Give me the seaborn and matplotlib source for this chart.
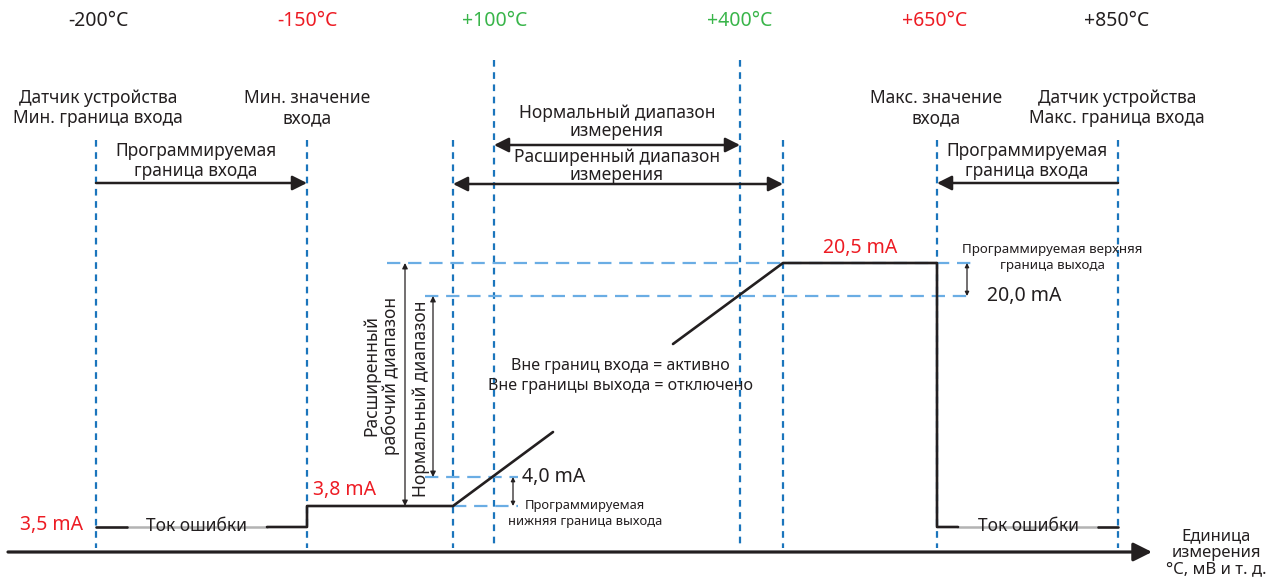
import numpy as np
import pandas as pd
import matplotlib
matplotlib.use("Agg")
import matplotlib.pyplot as plt
import seaborn as sns

# Схема задана в координатах исходного рисунка (пиксели, ось y вниз)
W, H = 1267, 581

# Границы входа (вертикальные пунктиры)
boundary_x = [96, 307, 453, 494, 740, 783, 937, 1118]
boundary_top = [140, 140, 140, 60, 60, 140, 140, 140]
boundary_bottom = 548

# Температурные метки сверху
temp_labels = ["-200°C", "-150°C", "+100°C", "+400°C", "+650°C", "+850°C"]
temp_x = [98, 307, 495, 740, 935, 1117]
temp_colors = ["#231f20", "#ed1c24", "#39b54a", "#39b54a", "#ed1c24", "#231f20"]

# Уровни выходного тока на схеме
level_labels = ["3,5 mA", "3,8 mA", "4,0 mA", "20,0 mA", "20,5 mA"]
level_y = [527, 506, 477, 296, 263]

# Выходной сигнал (сегменты, разрыв под надписью)
signal_seg = [0, 0, 1, 1, 1, 1, 1, 2, 2, 2, 2, 2, 3, 3]
signal_x = [96, 127, 267, 307, 307, 453, 553, 673, 783, 937, 937, 958, 1098, 1118]
signal_y = [527, 527, 527, 527, 506, 506, 432, 344, 263, 263, 527, 527, 527, 527]

# Ток ошибки (серые участки под текстом)
error_seg = [0, 0, 1, 1]
error_x = [127, 267, 958, 1098]
error_y = [527, 527, 527, 527]

# Светлые горизонтальные направляющие: (y, x0, x1)
guide_y = [263, 296, 477, 506]
guide_x0 = [387, 425, 425, 453]
guide_x1 = [973, 973, 518, 518]

TXT = "#231f20"
BLUE = "#1b75bc"
LIGHT = "#6aade4"

sns.set_theme(style="white")
plt.rcParams['font.family'] = ['Noto Sans', 'DejaVu Sans']

fig = plt.figure(figsize=(W / 100, H / 100), dpi=100)
ax = fig.add_axes([0, 0, 1, 1])

# вертикальные границы
for x, top in zip(boundary_x, boundary_top):
    ax.plot([x, x], [top, boundary_bottom], color=BLUE, lw=1.6,
            dashes=(3, 2.5), zorder=1)

# направляющие
for y, x0, x1 in zip(guide_y, guide_x0, guide_x1):
    ax.plot([x0, x1], [y, y], color=LIGHT, lw=1.6, dashes=(6, 3.5), zorder=1)

# ток ошибки
err = pd.DataFrame({"seg": error_seg, "x": error_x, "y": error_y})
sns.lineplot(data=err, x="x", y="y", units="seg", estimator=None, sort=False,
             color="#b3b3b3", lw=1.8, ax=ax, zorder=2)

# выходной сигнал
sig = pd.DataFrame({"seg": signal_seg, "x": signal_x, "y": signal_y})
sns.lineplot(data=sig, x="x", y="y", units="seg", estimator=None, sort=False,
             color="#231f20", lw=1.9, ax=ax, zorder=3)
ax.set_xlim(0, W)
ax.set_ylim(H, 0)
ax.axis('off')


def arrow(x0, y0, x1, y1, style, lw, ms):
    ax.annotate("", xy=(x1, y1), xytext=(x0, y0),
                arrowprops=dict(arrowstyle=style, lw=lw, color="#231f20",
                                mutation_scale=ms, shrinkA=0, shrinkB=0),
                zorder=4)


# ось
arrow(8, 552, 1152, 552, "-|>", 2.3, 28)

# горизонтальные стрелки диапазонов
arrow(96, 183, 307, 183, "-|>", 1.8, 22)
arrow(1118, 183, 937, 183, "-|>", 1.8, 22)
arrow(494, 145, 740, 145, "<|-|>", 1.8, 22)
arrow(453, 184, 783, 184, "<|-|>", 1.8, 22)

# вертикальные стрелки
arrow(405, 506, 405, 263, "<|-|>", 0.9, 8)
arrow(433, 477, 433, 296, "<|-|>", 0.9, 8)
arrow(513, 506, 513, 477, "<|-|>", 0.9, 6)
arrow(967, 296, 967, 263, "<|-|>", 0.9, 6)

# температурные подписи
for lab, x, c in zip(temp_labels, temp_x, temp_colors):
    ax.text(x, 21, lab, color=c, fontsize=14, ha='center', va='center')

def label(x, y, s, size=12.5, ls=1.15, **kw):
    kw.setdefault('ha', 'center')
    kw.setdefault('va', 'center')
    kw.setdefault('color', TXT)
    ax.text(x, y, s, fontsize=size, linespacing=ls, **kw)

label(98, 108, "Датчик устройства\nМин. граница входа")
label(307, 108, "Мин. значение\nвхода")
label(196, 161, "Программируемая\nграница входа")
label(617, 122, "Нормальный диапазон\nизмерения", ls=1.0)
label(617, 166, "Расширенный диапазон\nизмерения", ls=1.0)
label(936, 108, "Макс. значение\nвхода")
label(1117, 108, "Датчик устройства\nМакс. граница входа")
label(1027, 161, "Программируемая\nграница входа")

label(381, 376, "Расширенный\nрабочий диапазон", rotation=90, ls=1.05)
label(421, 399, "Нормальный диапазон", rotation=90)

label(620, 376, "Вне границ входа = активно\nВне границы выхода = отключено", size=11.5, ls=1.3)

label(1052, 258, "Программируемая верхняя\nграница выхода", size=9.6, ls=1.3)
label(585, 514, "Программируемая\nнижняя граница выхода", size=9.3, ls=1.3)

label(196, 526, "Ток ошибки", size=12.5)
label(1028, 526, "Ток ошибки", size=12.5)

label(1216, 553, "Единица\nизмерения\n°С, мВ и т. д.", size=12, ls=1.05)

# значения тока
label(83, 525, level_labels[0], size=14, ha='right', color="#ed1c24")
label(313, 490, level_labels[1], size=14, ha='left', color="#ed1c24")
label(522, 477, level_labels[2], size=14, ha='left')
label(987, 296, level_labels[3], size=14, ha='left')
label(860, 248, level_labels[4], size=14, color="#ed1c24")

fig.savefig("out.png", dpi=100)
